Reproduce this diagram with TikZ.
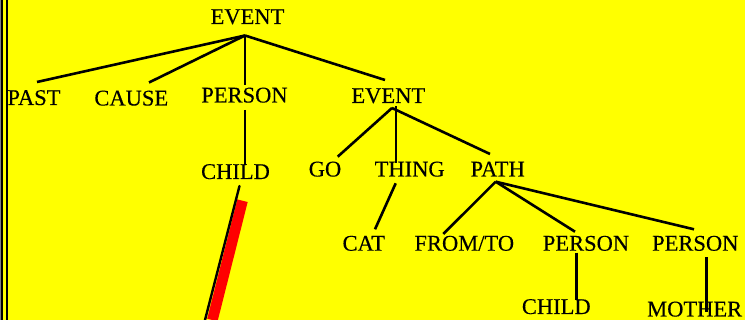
\documentclass[tikz,border=0pt]{standalone}
\usepackage{fontspec}
\setmainfont{Liberation Serif}
\newfontfamily\lblfont{Liberation Serif}[FakeBold=0.25]
\definecolor{bgyellow}{RGB}{255,255,0}
\definecolor{edgegray}{RGB}{128,128,128}
\begin{document}
\begin{tikzpicture}[x=1pt,y=-1pt,
  lbl/.style={inner sep=0pt,anchor=base,font=\lblfont\fontsize{22.5}{26}\selectfont},
  edge/.style={draw=black,line width=2.6pt},
  thinedge/.style={draw=black,line width=2.4pt,line cap=round},
  redbar/.style={draw=red,line width=10.7pt,line cap=butt}]
\useasboundingbox (0,0) rectangle (745,320);
\fill[bgyellow] (0,0) rectangle (745,320);
% left border
\fill[edgegray] (0,0) rectangle (1.3,320);
\fill[black] (1.3,0) rectangle (3,320);
\fill[black] (5.5,0) rectangle (8.3,320);

% nodes
\node[lbl] (ev1) at (247.5,24) {EVENT};
\node[lbl] (past) at (34,105) {PAST};
\node[lbl] (cause) at (131.3,105.5) {CAUSE};
\node[lbl] (pers1) at (244.5,102.5) {PERSON};
\node[lbl] (ev2) at (388.3,103) {EVENT};
\node[lbl] (child1) at (235.5,179) {CHILD};
\node[lbl] (go) at (325,176.5) {GO};
\node[lbl] (thing) at (409.7,176.5) {THING};
\node[lbl] (path) at (497.7,176.5) {PATH};
\node[lbl] (cat) at (363.8,250.7) {CAT};
\node[lbl] (fromto) at (464.3,250.7) {FROM/TO};
\node[lbl] (pers2) at (586,250.7) {PERSON};
\node[lbl] (pers3) at (695.3,250.7) {PERSON};
\node[lbl] (child2) at (556.3,314) {CHILD};
\node[lbl] (mother) at (694.7,316.5) {MOTHER};

% junctions
\coordinate (j1) at (245,35.5);
\coordinate (j2) at (392,108);
\coordinate (j3) at (495.7,181.7);
\coordinate (redtop) at (242.5,200.7);
\coordinate (redend) at (212.4,320);
\coordinate (thinend) at (205,320);

% connectors
\draw[edge] (j1) -- ([shift={(3,-23)}]past.base);
\draw[edge] (j1) -- ([shift={(17.7,-23)}]cause.base);
\draw[edge] (j1) -- ([shift={(0.5,-17.5)}]pers1.base);
\draw[edge] (j1) -- ([shift={(-3.3,-23)}]ev2.base);
\draw[edge] ([shift={(0.5,7.5)}]pers1.base) -- ([shift={(9.5,-14)}]child1.base);

\draw[edge] (j2) -- ([shift={(12.7,-19.8)}]go.base);
\draw[edge] (j2) -- ([shift={(-7.7,-22.5)}]path.base);
\draw[edge] ([shift={(7.7,3.5)}]ev2.base) -- ([shift={(-13.7,-13.5)}]thing.base);
\draw[edge] ([shift={(-14,6.8)}]thing.base) -- ([shift={(11.2,-21.4)}]cat.base);

\draw[edge] (j3) -- ([shift={(-21,-16.7)}]fromto.base);
\draw[edge] (j3) -- ([shift={(-11,-19)}]pers2.base);
\draw[edge] (j3) -- ([shift={(-1.3,-21.4)}]pers3.base);
\draw[edge] ([shift={(-9.3,2)}]pers2.base) -- ([shift={(20.4,-14)}]child2.base);
\draw[edge] ([shift={(11.4,6.6)}]pers3.base) -- ([shift={(12,-4)}]mother.base);

% red bar with thin line
\draw[redbar] (redtop) -- (redend);
\draw[thinedge] ([shift={(4,7)}]child1.base) -- (thinend);
\end{tikzpicture}
\end{document}
